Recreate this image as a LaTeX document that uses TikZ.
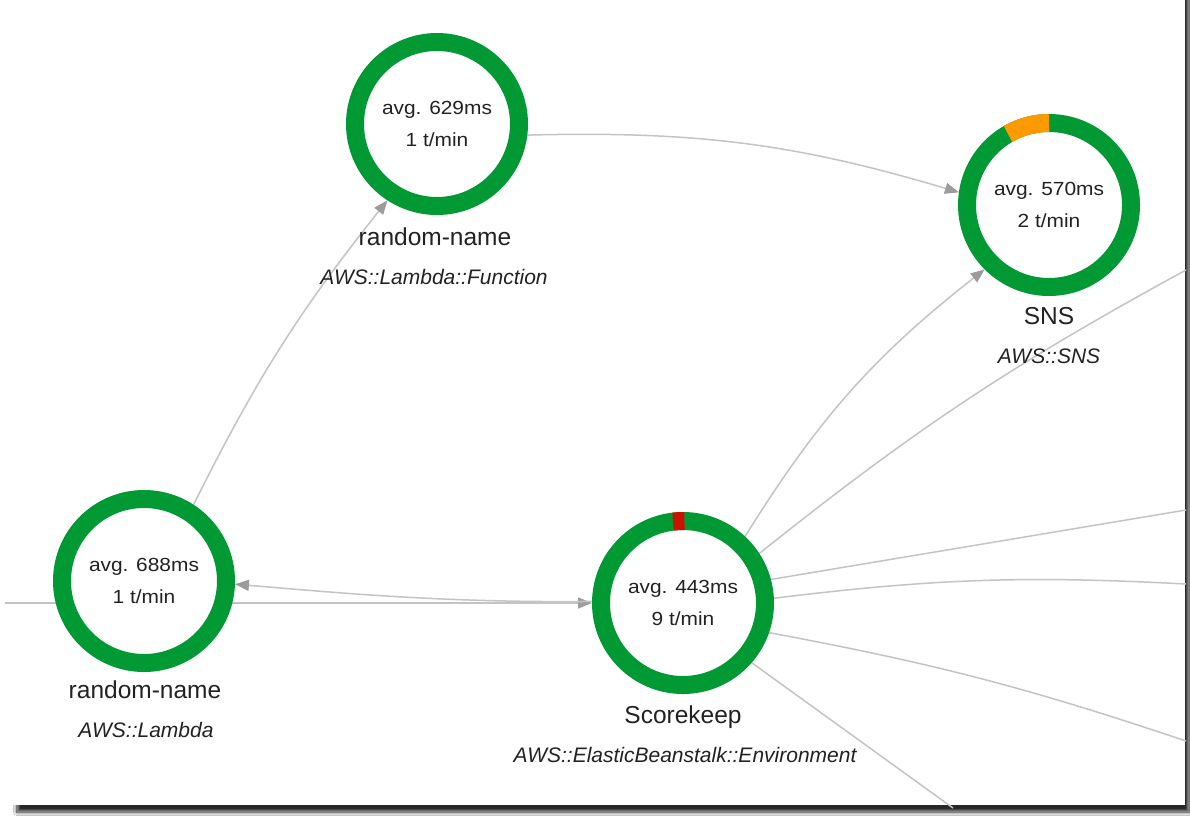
\documentclass[tikz,border=0pt]{standalone}
\usepackage{fontspec}
\setmainfont{Liberation Sans}
\newfontfamily\metricfont[FakeStretch=1.1]{Liberation Sans}
\usetikzlibrary{arrows.meta,shadows.blur,calc}
\definecolor{ringgreen}{HTML}{009933}
\definecolor{warnorange}{HTML}{FF9900}
\definecolor{errred}{HTML}{CC1100}
\definecolor{edgegray}{HTML}{C4C4C4}
\definecolor{tipgray}{HTML}{9C9C9C}
\definecolor{txt}{HTML}{222222}
\pgfdeclarelayer{bg}
\pgfdeclarelayer{edges}
\pgfsetlayers{bg,edges,main}
\begin{document}
\begin{tikzpicture}[x=1pt,y=1pt,
  ring/.style={circle, draw=ringgreen, line width=18pt, fill=white, minimum size=164pt,
    inner sep=0pt, outer sep=9pt, align=center, text=txt,
    font=\metricfont\fontsize{19pt}{32pt}\selectfont},
  svcname/.style={text=txt, font=\fontsize{24.5pt}{28pt}\selectfont, inner sep=0pt,
    text height=17.5pt, text depth=0pt},
  svctype/.style={text=txt, font=\itshape\fontsize{21pt}{24pt}\selectfont, inner sep=0pt,
    text height=15pt, text depth=0pt},
  conn/.style={draw=edgegray, line width=1.5pt},
  arr/.style={conn, -{Triangle[length=14pt,width=11pt,color=tipgray]}},
]
\useasboundingbox (0,0) rectangle (1190,-817);
\begin{pgfonlayer}{bg}
  \fill[white] (0,0) rectangle (1190,-817);
  \fill[white, blur shadow={shadow xshift=4pt, shadow yshift=-7pt, shadow blur radius=3.5pt,
    shadow blur steps=12, shadow opacity=85}] (13,30) rectangle (1185,-805);
  \fill[white] (0,30) rectangle (13,-805);
\end{pgfonlayer}

% service nodes
\node[ring] (fn)  at (437,-124)  {avg. 629ms\\1 t/min};
\node[ring] (sns) at (1049,-205) {avg. 570ms\\2 t/min};
\node[ring] (lam) at (144,-581)  {avg. 688ms\\1 t/min};
\node[ring] (sk)  at (683,-603)  {avg. 443ms\\9 t/min};

% status segments
\draw[warnorange, line width=18pt] ($(sns.center)+(90:82pt)$) arc[start angle=90, end angle=120, radius=82pt];
\draw[errred, line width=18pt] ($(sk.center)+(89:82pt)$) arc[start angle=89, end angle=97, radius=82pt];

% labels
\node[svcname] (fnname)  at (435,-237)  {random-name};
\node[svctype] (fntype)  at (434,-277)  {AWS::Lambda::Function};
\node[svcname] (snsname) at (1049,-316) {SNS};
\node[svctype] (snstype) at (1049,-356) {AWS::SNS};
\node[svcname] (lamname) at (145,-690)  {random-name};
\node[svctype] (lamtype) at (146,-730)  {AWS::Lambda};
\node[svcname] (skname)  at (683,-715)  {Scorekeep};
\node[svctype] (sktype)  at (685,-755)  {AWS::ElasticBeanstalk::Environment};

% connectors
\begin{pgfonlayer}{edges}
  \coordinate (westin) at (5,-603);
  \coordinate (outa) at (1186,-270);
  \coordinate (outb) at (1186,-510);
  \coordinate (outc) at (1186,-584);
  \coordinate (outd) at (1186,-741);
  \coordinate (oute) at (953,-808);
  \draw[arr] (westin) -- (sk.180);
  \draw[arr] (sk.179) .. controls (440,-603) and (330,-592) .. (lam.-2);
  \draw[arr] (lam.57) to[bend left=6] (fn.237);
  \draw[arr] (fn.-7) to[bend left=9] (sns.172);
  \draw[arr] (sk.47) to[bend left=10] (sns.225);
  \draw[conn] (sk.33) to[bend left=5] (outa);
  \draw[conn] (sk.15) -- (outb);
  \draw[conn] (sk.3) to[bend left=5] (outc);
  \draw[conn] (sk.-19) to[bend left=4] (outd);
  \draw[conn] (sk.-41) -- (oute);
\end{pgfonlayer}
\end{tikzpicture}
\end{document}
